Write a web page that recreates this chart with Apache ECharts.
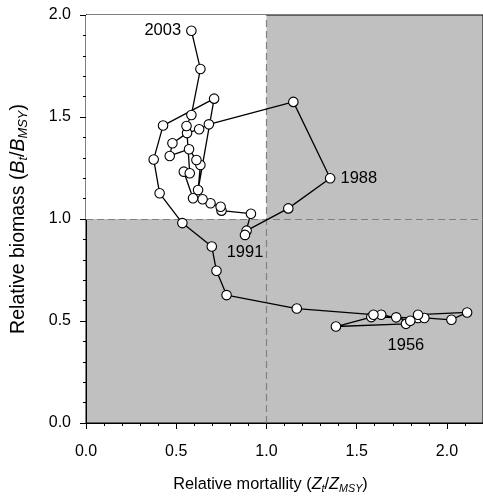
<!DOCTYPE html>
<html>
<head>
<meta charset="utf-8">
<script src="https://cdn.jsdelivr.net/npm/echarts@6/dist/echarts.min.js"></script>
<style>
html,body{margin:0;padding:0;background:#fff;}
#chart{width:483px;height:500px;}
</style>
</head>
<body>
<div id="chart"></div>
<script>
// Relative mortality (Z/Zmsy), chronological order
const mortality = [1.773,1.385,1.581,1.719,1.840,1.875,2.025,2.112,1.840,1.797,1.636,1.593,
  1.168,0.779,0.723,0.697,0.534,0.408,0.375,0.427,0.710,0.621,0.634,0.612,0.571,0.464,0.479,0.560,0.627,0.681,
  1.149,1.353,1.121,0.890,0.881,0.914,0.751,0.746,0.690,0.646,0.593,0.542,0.575,0.557,0.584,0.634,0.584];
// Relative biomass (B/Bmsy)
const biomass = [0.486,0.473,0.519,0.518,0.515,0.515,0.506,0.542,0.531,0.501,0.531,0.531,
  0.561,0.627,0.746,0.865,0.980,1.126,1.292,1.458,1.590,1.142,1.265,1.289,1.342,1.309,1.371,1.421,1.440,1.464,
  1.574,1.200,1.052,0.943,0.922,1.026,1.041,1.060,1.077,1.097,1.102,1.232,1.224,1.456,1.510,1.735,1.923];
const labelTexts = ['1956','1988','1991','2003'];
const labelIdx = [0,31,34,46];
const xTicks = [0.0,0.5,1.0,1.5,2.0];
const yTicks = [0.0,0.5,1.0,1.5,2.0];

const labelPos = {'1956':'bottom','1988':'right','1991':'bottom','2003':'left'};
const font = 'Liberation Sans, Arial, sans-serif';
const data = mortality.map((x,i)=>{
  const d = {value:[x,biomass[i]]};
  const k = labelIdx.indexOf(i);
  if (k>=0) {
    const t = labelTexts[k];
    d.label = {show:true, formatter:t, position:labelPos[t], distance: t==='1956'?8:(t==='1991'?4:5),
      color:'#000', fontSize:16.5, fontFamily:font};
  }
  return d;
});

function rich(sz){
  return {
    n:{fontSize:sz, fontFamily:font, color:'#000'},
    i:{fontSize:sz, fontFamily:font, color:'#000', fontStyle:'italic'},
    s:{fontSize:sz*0.66, fontFamily:font, color:'#000', fontStyle:'italic', padding:[sz*0.5,0,0,0]}
  };
}
const chart = echarts.init(document.getElementById('chart'), null, {renderer:'canvas'});
chart.setOption({
  animation:false,
  grid:{left:86, right:0, top:15, bottom:77, show:true, backgroundColor:'#c0c0c0', borderColor:'#000', borderWidth:1},
  xAxis:{type:'value', min:0, max:2.2, interval:0.5,
    axisLine:{show:true, onZero:false, lineStyle:{color:'#000'}},
    axisTick:{show:true, length:6, lineStyle:{color:'#000'}},
    minorTick:{show:true, splitNumber:5, length:3, lineStyle:{color:'#000'}},
    splitLine:{show:false},
    axisLabel:{color:'#000', fontSize:16, fontFamily:font, margin:21, showMaxLabel:false,
      formatter:v=> xTicks.some(t=>Math.abs(t-v)<1e-9) ? v.toFixed(1) : ''},
    name:'{n|Relative mortallity (}{i|Z}{s|t}{n|/}{i|Z}{s|MSY}{n|)}',
    nameLocation:'middle', nameGap:52,
    nameTextStyle:{rich:rich(16.3), padding:[0,28,0,0]}
  },
  yAxis:{type:'value', min:0, max:2, interval:0.5,
    axisLine:{show:true, onZero:false, lineStyle:{color:'#000'}},
    axisTick:{show:true, length:6, lineStyle:{color:'#000'}},
    minorTick:{show:true, splitNumber:5, length:3, lineStyle:{color:'#000'}},
    splitLine:{show:false},
    axisLabel:{color:'#000', fontSize:16, fontFamily:font, margin:15,
      formatter:v=> yTicks.some(t=>Math.abs(t-v)<1e-9) ? v.toFixed(1) : ''},
    name:'{n|Relative biomass (}{i|B}{s|t}{n|/}{i|B}{s|MSY}{n|)}',
    nameLocation:'middle', nameGap:56, nameRotate:90,
    nameTextStyle:{rich:rich(19.5)}
  },
  series:[{
    type:'line', data:data, symbol:'circle', symbolSize:9.5,
    lineStyle:{color:'#000', width:1.3},
    itemStyle:{color:'#fff', borderColor:'#000', borderWidth:1.1},
    z:5,
    markArea:{silent:true, itemStyle:{color:'#fff'}, data:[[{coord:[0,1]},{coord:[1,2]}]]},
    markLine:{silent:true, symbol:'none', label:{show:false},
      lineStyle:{color:'#808080', type:[7,4], width:1.2},
      data:[{xAxis:1},{yAxis:1}]}
  }]
});
</script>
</body>
</html>
